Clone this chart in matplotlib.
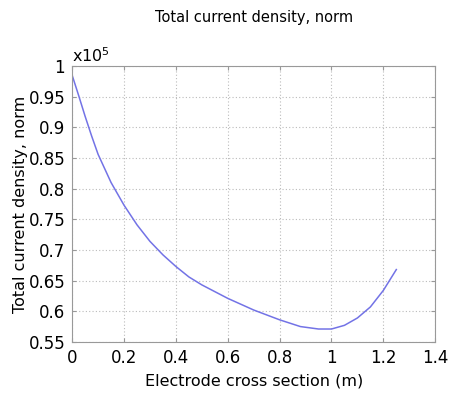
import matplotlib
matplotlib.use("Agg")
import matplotlib.pyplot as plt

# Electrode cross section (m) vs total current density norm (x1e5)
section = [0, 0.025, 0.05, 0.075, 0.1, 0.15, 0.2, 0.25, 0.3, 0.35, 0.4, 0.45,
           0.5, 0.6, 0.7, 0.8, 0.88, 0.95, 1.0, 1.05, 1.1, 1.15, 1.2, 1.25]
density = [0.985, 0.952, 0.918, 0.886, 0.856, 0.81, 0.773, 0.741, 0.714,
           0.692, 0.673, 0.656, 0.643, 0.621, 0.602, 0.586, 0.575, 0.571,
           0.571, 0.577, 0.589, 0.607, 0.634, 0.668]

xticks = [0, 0.2, 0.4, 0.6, 0.8, 1, 1.2, 1.4]
yticks = [0.55, 0.6, 0.65, 0.7, 0.75, 0.8, 0.85, 0.9, 0.95, 1]

fig = plt.figure(figsize=(4.51, 3.98), dpi=100)
ax = fig.add_axes([0.160, 0.141, 0.805, 0.693])

ax.plot(section, density, color="#7373e6", linewidth=1.1)

ax.set_xlim(0, 1.4)
ax.set_ylim(0.55, 1.0)
ax.set_xticks(xticks)
ax.set_xticklabels(["0", "0.2", "0.4", "0.6", "0.8", "1", "1.2", "1.4"])
ax.set_yticks(yticks)
ax.set_yticklabels(["0.55", "0.6", "0.65", "0.7", "0.75", "0.8", "0.85", "0.9", "0.95", "1"])
ax.grid(True, linestyle=(0, (1, 2)), color="#bbbbbb", linewidth=0.8)
ax.tick_params(direction="in", length=3, labelsize=12, colors="#999999",
               labelcolor="black", top=True, right=True, pad=5)
for s in ax.spines.values():
    s.set_color("#999999")

ax.set_title("Total current density, norm", fontsize=10.5, pad=32)
ax.set_xlabel("Electrode cross section (m)", fontsize=11.5, labelpad=5)
ax.set_ylabel("Total current density, norm", fontsize=11.5, labelpad=0)
ax.text(0.0, 1.005, r"x10$^5$", transform=ax.transAxes, fontsize=11.5,
        ha="left", va="bottom")

fig.savefig("out.png", dpi=100)
